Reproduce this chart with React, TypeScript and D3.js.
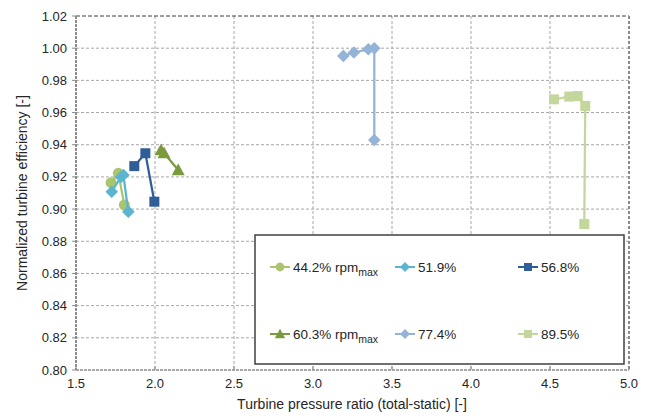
import React from "react";
import * as d3 from "d3";

const xTicks = [1.5, 2.0, 2.5, 3.0, 3.5, 4.0, 4.5, 5.0];
const yTicks = [0.8, 0.82, 0.84, 0.86, 0.88, 0.9, 0.92, 0.94, 0.96, 0.98, 1.0, 1.02];

const s442x = [1.722, 1.768, 1.806];
const s442y = [0.9164, 0.9222, 0.9026];
const s519x = [1.726, 1.785, 1.8, 1.831];
const s519y = [0.9108, 0.92, 0.9212, 0.8984];
const s568x = [1.869, 1.939, 1.996];
const s568y = [0.9267, 0.9347, 0.9046];
const s603x = [2.038, 2.057, 2.147];
const s603y = [0.9367, 0.9349, 0.9243];
const s774x = [3.192, 3.259, 3.35, 3.388, 3.388];
const s774y = [0.9952, 0.9973, 0.9993, 0.9999, 0.9429];
const s895x = [4.525, 4.622, 4.675, 4.723, 4.717];
const s895y = [0.9682, 0.9699, 0.9703, 0.9641, 0.8907];

const seriesLabels = ["44.2%", "51.9%", "56.8%", "60.3%", "77.4%", "89.5%"];

type Sym = "circle" | "diamond" | "square" | "triangle";
const series: { name: string; xs: number[]; ys: number[]; color: string; sym: Sym; rpm: boolean }[] = [
  { name: seriesLabels[0], xs: s442x, ys: s442y, color: "#A9C56E", sym: "circle", rpm: true },
  { name: seriesLabels[1], xs: s519x, ys: s519y, color: "#5BB5CF", sym: "diamond", rpm: false },
  { name: seriesLabels[2], xs: s568x, ys: s568y, color: "#2F5E98", sym: "square", rpm: false },
  { name: seriesLabels[3], xs: s603x, ys: s603y, color: "#7A9A3D", sym: "triangle", rpm: true },
  { name: seriesLabels[4], xs: s774x, ys: s774y, color: "#95B3D7", sym: "diamond", rpm: false },
  { name: seriesLabels[5], xs: s895x, ys: s895y, color: "#C3D69B", sym: "square", rpm: false },
];

const L = 76, R = 629, T = 16, B = 370;
const x = d3.scaleLinear().domain([1.5, 5.0]).range([L, R]);
const y = d3.scaleLinear().domain([0.8, 1.02]).range([B, T]);

function Marker({ sym, cx, cy, color, scale = 1 }: { sym: Sym; cx: number; cy: number; color: string; scale?: number }) {
  if (sym === "circle") return <circle cx={cx} cy={cy} r={5.5 * scale} fill={color} />;
  if (sym === "square") {
    const h = 5 * scale;
    return <rect x={cx - h} y={cy - h} width={2 * h} height={2 * h} fill={color} />;
  }
  if (sym === "diamond") {
    const h = 6.3 * scale;
    return <path d={`M${cx},${cy - h}L${cx + h},${cy}L${cx},${cy + h}L${cx - h},${cy}Z`} fill={color} />;
  }
  const h = 6.5 * scale;
  return <path d={`M${cx},${cy - h}L${cx + h},${cy + h * 0.8}L${cx - h},${cy + h * 0.8}Z`} fill={color} />;
}

export default function App() {
  const font = "Liberation Sans, Arial, sans-serif";
  const line = d3.line<[number, number]>().x((d) => x(d[0])).y((d) => y(d[1]));
  const legendPos = [
    [280, 267], [405, 267], [528, 267],
    [280, 334], [405, 334], [528, 334],
  ];
  return (
    <svg width={652} height={418} style={{ position: "absolute", left: 0, top: 0, fontFamily: font }}>
      <rect width={652} height={418} fill="#fff" />
      {yTicks.slice(1, -1).map((t) => (
        <line key={"gy" + t} x1={L} x2={R} y1={y(t)} y2={y(t)} stroke="#a6a6a6" strokeWidth={1} strokeDasharray="3,2" />
      ))}
      {xTicks.slice(1, -1).map((t) => (
        <line key={"gx" + t} x1={x(t)} x2={x(t)} y1={T} y2={B} stroke="#a6a6a6" strokeWidth={1} strokeDasharray="3,2" />
      ))}
      <line x1={L} x2={R} y1={T} y2={T} stroke="#404040" strokeWidth={1} strokeDasharray="4,2" />
      <line x1={R} x2={R} y1={T} y2={B} stroke="#8c8c8c" strokeWidth={2} strokeDasharray="3,2" />
      <line x1={L} x2={L} y1={T} y2={B} stroke="#8c8c8c" strokeWidth={2} strokeDasharray="3,1" />
      <line x1={L} x2={R} y1={B} y2={B} stroke="#8c8c8c" strokeWidth={1.5} strokeDasharray="3,1" />
      {yTicks.map((t) => (
        <g key={"yt" + t}>
          <line x1={L - 4} x2={L} y1={y(t)} y2={y(t)} stroke="#8c8c8c" />
          <text x={67} y={y(t)} dy="0.35em" textAnchor="end" fontSize={13} fill="#262626">{t.toFixed(2)}</text>
        </g>
      ))}
      {xTicks.map((t) => (
        <g key={"xt" + t}>
          <line x1={x(t)} x2={x(t)} y1={B - 4} y2={B} stroke="#8c8c8c" />
          <text x={x(t)} y={388} textAnchor="middle" fontSize={13} fill="#262626">{t.toFixed(1)}</text>
        </g>
      ))}
      <text x={352} y={409} textAnchor="middle" fontSize={14} fill="#262626">Turbine pressure ratio (total-static) [-]</text>
      <text transform={`translate(27,193) rotate(-90)`} textAnchor="middle" fontSize={14} fill="#262626">Normalized turbine efficiency [-]</text>
      {series.map((s) => {
        const pts = s.xs.map((v, i) => [v, s.ys[i]] as [number, number]);
        return (
          <g key={s.name}>
            <path d={line(pts) || ""} fill="none" stroke={s.color} strokeWidth={2.25} />
            {pts.map((p, i) => (
              <Marker key={i} sym={s.sym} cx={x(p[0])} cy={y(p[1])} color={s.color} />
            ))}
          </g>
        );
      })}
      <rect x={255} y={235} width={369} height={129} fill="#fff" stroke="#404040" strokeWidth={1.5} />
      {series.map((s, i) => {
        const [lx, ly] = legendPos[i];
        return (
          <g key={"lg" + i}>
            <line x1={lx - 10} x2={lx + 10} y1={ly} y2={ly} stroke={s.color} strokeWidth={2} />
            <Marker sym={s.sym} cx={lx} cy={ly} color={s.color} scale={0.8} />
            <text x={lx + 13} y={ly} dy="0.35em" fontSize={13.5} fill="#262626">
              {s.name}
              {s.rpm ? (
                <>
                  {" rpm"}
                  <tspan fontSize={10.5} dy={4}>max</tspan>
                </>
              ) : null}
            </text>
          </g>
        );
      })}
    </svg>
  );
}
